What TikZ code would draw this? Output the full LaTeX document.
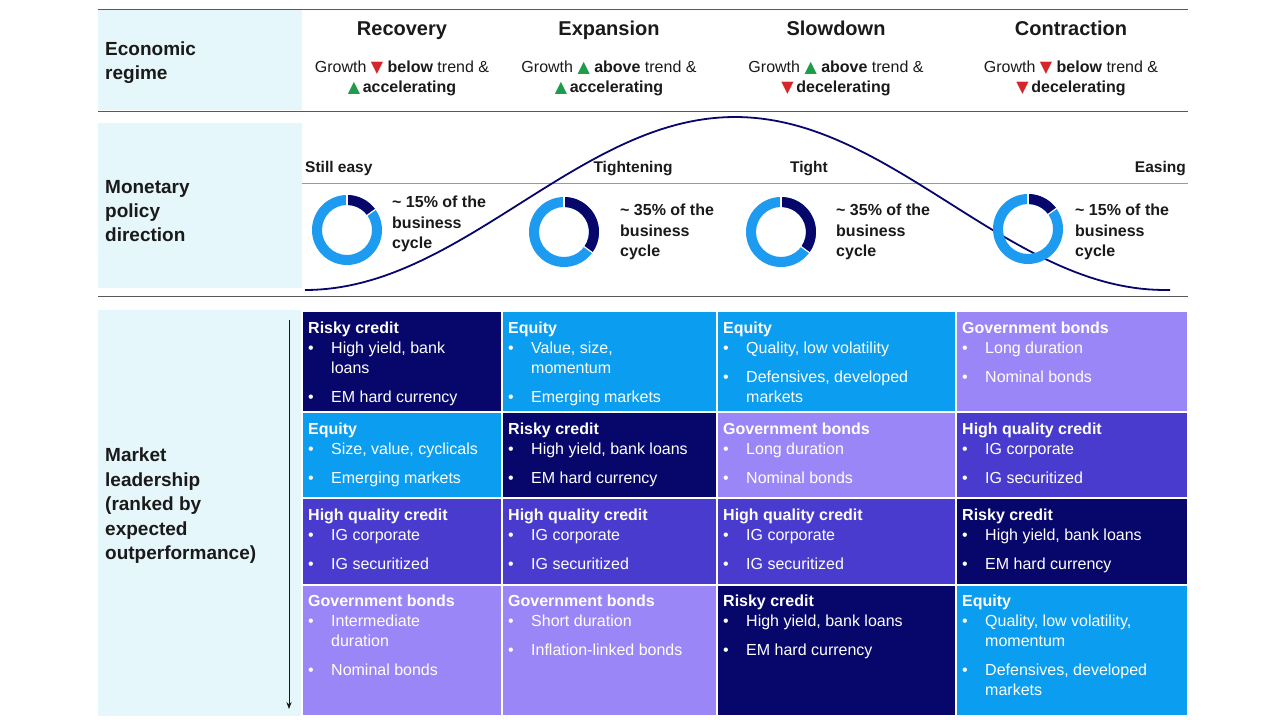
\documentclass[tikz,border=0pt]{standalone}
\usetikzlibrary{arrows.meta}
\usepackage{fontspec}
\setmainfont{Liberation Sans}
\newfontfamily\symf{DejaVu Sans}
\definecolor{navy}{HTML}{07076B}
\definecolor{eqb}{HTML}{0B9DF0}
\definecolor{hqc}{HTML}{4A3BCF}
\definecolor{gvb}{HTML}{9B86F7}
\definecolor{lcy}{HTML}{E6F7FC}
\definecolor{dbl}{HTML}{1D9BF0}
\definecolor{trir}{HTML}{D7262B}
\definecolor{trig}{HTML}{1E9B4B}
\definecolor{txt}{HTML}{1A1A1A}
\newcommand{\dn}{\textcolor{trir}{\symf\char"25BC}}
\newcommand{\up}{\textcolor{trig}{\symf\char"25B2}}
\begin{document}
\begin{tikzpicture}[x=1pt,y=-1pt,
 lab/.style={anchor=base west,font=\fontsize{19}{23}\selectfont\bfseries,text=txt,inner sep=0},
 hd/.style={anchor=base,font=\fontsize{20}{24}\selectfont\bfseries,text=txt,inner sep=0},
 gr/.style={anchor=base,font=\fontsize{16}{20}\selectfont,text=txt,inner sep=0},
 mp/.style={font=\fontsize{15.5}{19}\selectfont\bfseries,text=txt,inner sep=0},
 dt/.style={anchor=base west,font=\fontsize{16}{20}\selectfont\bfseries,text=txt,inner sep=0,align=left},
 ct/.style={anchor=base west,font=\fontsize{16}{20}\selectfont\bfseries,text=white,inner sep=0},
 it/.style={anchor=base west,font=\fontsize{16}{20}\selectfont,text=white,inner sep=0},
 cell/.style={draw=white,line width=1.5pt}]
\useasboundingbox (0,0) rectangle (1280,720);
\fill[white] (0,0) rectangle (1280,720);
% left bands
\fill[lcy] (98,10) rectangle (302,110);
\fill[lcy] (98,123) rectangle (302,288);
\fill[lcy] (98,310) rectangle (302,716);
\draw[gray!70!black,line width=0.8pt] (98,9)--(1188,9) (98,111)--(1188,111) (98,296)--(1188,296);
\draw[gray!80,line width=0.8pt] (302,183)--(1188,183);
\node[lab] (l1) at (105,55) {Economic};
\node[lab] (l2) at (105,79) {regime};
\node[lab] (m1) at (105,193) {Monetary};
\node[lab] (m2) at (105,217) {policy};
\node[lab] (m3) at (105,241) {direction};
\node[lab] (k1) at (105,461) {Market};
\node[lab] (k2) at (105,486) {leadership};
\node[lab] (k3) at (105,510) {(ranked by};
\node[lab] (k4) at (105,535) {expected};
\node[lab] (k5) at (105,559) {outperformance)};
\coordinate (a0) at (289,320); \coordinate (a1) at (289,709);
\draw[-{Stealth[length=7pt]},line width=0.8pt,txt] (a0)--(a1);
% headers
\foreach \x/\t/\a/\b/\c/\d in {402/Recovery/\dn/below/\up/accelerating,609/Expansion/\up/above/\up/accelerating,836/Slowdown/\up/above/\dn/decelerating,1071/Contraction/\dn/below/\dn/decelerating}{
 \node[hd] at (\x,35) {\t};
 \node[gr] at (\x,72) {Growth \a\ \textbf{\b} trend \&};
 \node[gr] at (\x,92) {\c\,\textbf{\d}};
}
% curve
\draw[navy,line width=1.8pt,domain=305:1170,samples=120] plot (\x,{203.5+86.5*cos(0.41860*(\x-305))});
\node[mp,anchor=base west] (s1) at (305,172) {Still easy};
\node[mp,anchor=base] (s2) at (633,172) {Tightening};
\node[mp,anchor=base] (s3) at (809,172) {Tight};
\node[mp,anchor=base east] (s4) at (1186,172) {Easing};
% donuts
\foreach \cx/\cy/\p/\tx/\ty/\pp in {347/230/54/392/207/15,564/232/126/620/215/35,781/232/126/836/215/35,1028/229/54/1075/215/15}{
 \fill[dbl,even odd rule] (\cx,\cy) circle (35) (\cx,\cy) circle (25);
 \fill[navy] ({\cx+35*cos(90)},{\cy-35*sin(90)}) arc[start angle=-90,end angle={-90+\p},radius=35] -- ({\cx+25*cos(90-\p)},{\cy-25*sin(90-\p)}) arc[start angle={-90+\p},end angle=-90,radius=25] -- cycle;
 \draw[white,line width=1.2pt] (\cx,{\cy-24}) -- (\cx,{\cy-36});
 \draw[white,line width=1.2pt] ({\cx+24*cos(90-\p)},{\cy-24*sin(90-\p)}) -- ({\cx+36*cos(90-\p)},{\cy-36*sin(90-\p)});
 \node[dt] at (\tx,\ty) {\char"007E\ \pp\% of the};
 \node[dt] at (\tx,\ty+21) {business};
 \node[dt] at (\tx,\ty+41) {cycle};
}
% grid cells
\newcommand{\bl}[3]{\node[it] at (#1+10,#2) {\textbullet}; \node[it] at (#1+33,#2) {#3};}
\newcommand{\cl}[3]{\node[it] at (#1+33,#2) {#3};}
\fill[navy] (302,311) rectangle (502,412); \draw[cell] (302,311) rectangle (502,412);
\fill[eqb] (502,311) rectangle (717,412); \draw[cell] (502,311) rectangle (717,412);
\fill[eqb] (717,311) rectangle (956,412); \draw[cell] (717,311) rectangle (956,412);
\fill[gvb] (956,311) rectangle (1188,412); \draw[cell] (956,311) rectangle (1188,412);
\fill[eqb] (302,412) rectangle (502,498); \draw[cell] (302,412) rectangle (502,498);
\fill[navy] (502,412) rectangle (717,498); \draw[cell] (502,412) rectangle (717,498);
\fill[gvb] (717,412) rectangle (956,498); \draw[cell] (717,412) rectangle (956,498);
\fill[hqc] (956,412) rectangle (1188,498); \draw[cell] (956,412) rectangle (1188,498);
\fill[hqc] (302,498) rectangle (502,585); \draw[cell] (302,498) rectangle (502,585);
\fill[hqc] (502,498) rectangle (717,585); \draw[cell] (502,498) rectangle (717,585);
\fill[hqc] (717,498) rectangle (956,585); \draw[cell] (717,498) rectangle (956,585);
\fill[navy] (956,498) rectangle (1188,585); \draw[cell] (956,498) rectangle (1188,585);
\fill[gvb] (302,585) rectangle (502,716); \draw[cell] (302,585) rectangle (502,716);
\fill[gvb] (502,585) rectangle (717,716); \draw[cell] (502,585) rectangle (717,716);
\fill[navy] (717,585) rectangle (956,716); \draw[cell] (717,585) rectangle (956,716);
\fill[eqb] (956,585) rectangle (1188,716); \draw[cell] (956,585) rectangle (1188,716);
% row 1
\node[ct] at (308,333) {Risky credit}; \bl{298}{353}{High yield, bank} \cl{298}{373}{loans} \bl{298}{402}{EM hard currency}
\node[ct] at (508,333) {Equity}; \bl{498}{353}{Value, size,} \cl{498}{373}{momentum} \bl{498}{402}{Emerging markets}
\node[ct] at (723,333) {Equity}; \bl{713}{353}{Quality, low volatility} \bl{713}{382}{Defensives, developed} \cl{713}{402}{markets}
\node[ct] at (962,333) {Government bonds}; \bl{952}{353}{Long duration} \bl{952}{382}{Nominal bonds}
% row 2
\node[ct] at (308,434) {Equity}; \bl{298}{454}{Size, value, cyclicals} \bl{298}{483}{Emerging markets}
\node[ct] at (508,434) {Risky credit}; \bl{498}{454}{High yield, bank loans} \bl{498}{483}{EM hard currency}
\node[ct] at (723,434) {Government bonds}; \bl{713}{454}{Long duration} \bl{713}{483}{Nominal bonds}
\node[ct] at (962,434) {High quality credit}; \bl{952}{454}{IG corporate} \bl{952}{483}{IG securitized}
% row 3
\node[ct] at (308,520) {High quality credit}; \bl{298}{540}{IG corporate} \bl{298}{569}{IG securitized}
\node[ct] at (508,520) {High quality credit}; \bl{498}{540}{IG corporate} \bl{498}{569}{IG securitized}
\node[ct] at (723,520) {High quality credit}; \bl{713}{540}{IG corporate} \bl{713}{569}{IG securitized}
\node[ct] at (962,520) {Risky credit}; \bl{952}{540}{High yield, bank loans} \bl{952}{569}{EM hard currency}
% row 4
\node[ct] at (308,606) {Government bonds}; \bl{298}{626}{Intermediate} \cl{298}{646}{duration} \bl{298}{675}{Nominal bonds}
\node[ct] at (508,606) {Government bonds}; \bl{498}{626}{Short duration} \bl{498}{655}{Inflation-linked bonds}
\node[ct] at (723,606) {Risky credit}; \bl{713}{626}{High yield, bank loans} \bl{713}{655}{EM hard currency}
\node[ct] at (962,606) {Equity}; \bl{952}{626}{Quality, low volatility,} \cl{952}{646}{momentum} \bl{952}{675}{Defensives, developed} \cl{952}{695}{markets}
\end{tikzpicture}
\end{document}
